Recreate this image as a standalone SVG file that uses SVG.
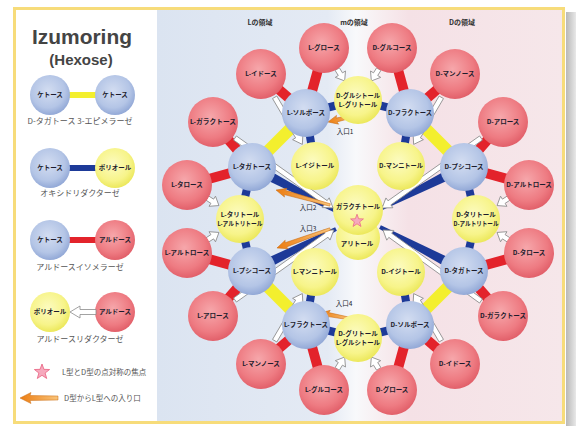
<svg xmlns="http://www.w3.org/2000/svg" xmlns:xlink="http://www.w3.org/1999/xlink" width="576" height="426" viewBox="0 0 576 426">
<defs>
<radialGradient id="gr" cx="0.45" cy="0.4" r="0.6"><stop offset="0" stop-color="#f6a7ab"/><stop offset="0.7" stop-color="#ee7b82"/><stop offset="1" stop-color="#e2606a"/></radialGradient>
<radialGradient id="gb" cx="0.45" cy="0.4" r="0.6"><stop offset="0" stop-color="#d3ddf1"/><stop offset="0.7" stop-color="#b4c5e6"/><stop offset="1" stop-color="#93a9d7"/></radialGradient>
<radialGradient id="gy" cx="0.45" cy="0.4" r="0.6"><stop offset="0" stop-color="#fcfbc0"/><stop offset="0.7" stop-color="#f7f48a"/><stop offset="1" stop-color="#ece85c"/></radialGradient>
<linearGradient id="gbg" x1="0" y1="0" x2="1" y2="0"><stop offset="0" stop-color="#dbe4f1"/><stop offset="0.42" stop-color="#e4eaf4"/><stop offset="0.49" stop-color="#f8f9fb"/><stop offset="0.56" stop-color="#f7ecef"/><stop offset="0.62" stop-color="#f5e1e6"/><stop offset="1" stop-color="#f6e7ea"/></linearGradient>
<linearGradient id="go" x1="0" y1="0" x2="1" y2="0"><stop offset="0" stop-color="#f9c47a"/><stop offset="1" stop-color="#ec7d12"/></linearGradient>
<linearGradient id="gsh" x1="0" y1="0" x2="1" y2="0"><stop offset="0" stop-color="#b8b8b8"/><stop offset="1" stop-color="#e8e8e8"/></linearGradient>
<path id="sa" d="M0,-2.5 H6 V-6 L14,0 L6,6 V2.5 H0 Z"/>
<polygon id="star" points="0,-8 1.94,-2.67 7.61,-2.47 3.14,1.02 4.70,6.47 0,3.3 -4.70,6.47 -3.14,1.02 -7.61,-2.47 -1.94,-2.67"/>
</defs>
<style>
.rn{fill:url(#gr)}
.bn{fill:url(#gb)}
.yn{fill:url(#gy)}
.t{font-family:"Noto Sans CJK JP","Noto Sans CJK SC",sans-serif;font-size:6.5px;font-weight:bold;fill:#1c1c2c;text-anchor:middle}
.cap{font-family:"Noto Sans CJK JP","Noto Sans CJK SC",sans-serif;font-size:8px;fill:#555;text-anchor:middle}
.reg{font-family:"Noto Sans CJK JP","Noto Sans CJK SC",sans-serif;font-size:7px;font-weight:bold;fill:#333;text-anchor:middle}
.rb{stroke:#e3232b;stroke-width:10;fill:none}
.yb{stroke:#f3ef2e;stroke-width:12;fill:none}
.bb{stroke:#1d3a98;stroke-width:8;fill:none}
.wg{fill:#1d3a98}
.wa{fill:#fff;stroke:#8c8c8c;stroke-width:0.8}
.oa{fill:url(#go);stroke:#c86a10;stroke-width:0.5}
.st{fill:#f6a9bd;stroke:#e8607f;stroke-width:0.8}
</style>

<!-- background -->
<rect x="0" y="0" width="576" height="426" fill="#fff"/>
<rect x="566" y="12" width="10" height="414" fill="url(#gsh)"/>
<rect x="157" y="10" width="406" height="412" fill="url(#gbg)"/>
<rect x="14.5" y="8.5" width="549" height="414" fill="none" stroke="#f7dc7a" stroke-width="3"/>

<!-- legend -->
<g id="legend">
<text x="82" y="44" font-family="Liberation Sans, Arial, sans-serif" font-size="21" font-weight="bold" fill="#444" text-anchor="middle" textLength="100" lengthAdjust="spacingAndGlyphs">Izumoring</text>
<text x="81" y="65" font-family="Liberation Sans, Arial, sans-serif" font-size="15" font-weight="bold" fill="#444" text-anchor="middle">(Hexose)</text>
<line x1="68" y1="95" x2="97" y2="95" stroke="#f3ef2e" stroke-width="6"/>
<circle cx="50" cy="95" r="20" class="bn"/><text x="50" y="97.3" class="t">ケトース</text>
<circle cx="115" cy="95" r="20" class="bn"/><text x="115" y="97.3" class="t">ケトース</text>
<text x="80" y="124" class="cap">D-タガトース 3-エピメラーゼ</text>
<line x1="68" y1="168" x2="97" y2="168" stroke="#1d3a98" stroke-width="6"/>
<circle cx="50" cy="168" r="20" class="bn"/><text x="50" y="170.3" class="t">ケトース</text>
<circle cx="115" cy="168" r="20" class="yn"/><text x="115" y="170.3" class="t">ポリオール</text>
<text x="80" y="196" class="cap">オキシドリダクターゼ</text>
<line x1="68" y1="240" x2="97" y2="240" stroke="#e3232b" stroke-width="6"/>
<circle cx="50" cy="240" r="20" class="bn"/><text x="50" y="242.3" class="t">ケトース</text>
<circle cx="115" cy="240" r="20" class="rn"/><text x="115" y="242.3" class="t">アルドース</text>
<text x="80" y="270" class="cap">アルドースイソメラーゼ</text>
<circle cx="50" cy="312" r="20" class="yn"/><text x="50" y="314.3" class="t">ポリオール</text>
<circle cx="115" cy="312" r="20" class="rn"/><text x="115" y="314.3" class="t">アルドース</text>
<path class="wa" transform="translate(96,312) rotate(180)" d="M0,-2.5 H16 V-6 L26,0 L16,6 V2.5 H0 Z"/>
<text x="80" y="342" class="cap">アルドースリダクターゼ</text>
<use href="#star" class="st" transform="translate(42,372)"/>
<text x="62" y="375" class="cap" style="font-size:7.5px;text-anchor:start">L型とD型の点対称の焦点</text>
<path class="oa" transform="translate(58,398) rotate(180)" d="M0,-2 L28,-2.5 L27,-5.5 L38,0 L27,5.5 L28,2.5 L0,2 Z"/>
<text x="64" y="401" class="cap" style="font-size:7.5px;text-anchor:start">D型からL型への入り口</text>
</g>

<!-- region labels -->
<g id="regions">
<text x="260" y="25" class="reg">Lの領域</text>
<text x="354" y="25" class="reg">mの領域</text>
<text x="462" y="25" class="reg">Dの領域</text>
</g>

<!-- connectors -->
<g id="connectors">
<!-- isomerase (red) -->
<line class="rb" x1="306" y1="113" x2="324" y2="48"/>
<line class="rb" x1="306" y1="113" x2="261" y2="74"/>
<line class="rb" x1="410" y1="113" x2="392" y2="48"/>
<line class="rb" x1="410" y1="113" x2="455" y2="74"/>
<line class="rb" x1="464" y1="167" x2="503" y2="122"/>
<line class="rb" x1="464" y1="167" x2="529" y2="185"/>
<line class="rb" x1="464" y1="271" x2="529" y2="253"/>
<line class="rb" x1="464" y1="271" x2="503" y2="316"/>
<line class="rb" x1="410" y1="325" x2="455" y2="364"/>
<line class="rb" x1="410" y1="325" x2="392" y2="390"/>
<line class="rb" x1="306" y1="325" x2="324" y2="390"/>
<line class="rb" x1="306" y1="325" x2="261" y2="364"/>
<line class="rb" x1="252" y1="271" x2="213" y2="316"/>
<line class="rb" x1="252" y1="271" x2="187" y2="253"/>
<line class="rb" x1="252" y1="167" x2="187" y2="185"/>
<line class="rb" x1="252" y1="167" x2="213" y2="122"/>
<!-- epimerase (yellow) -->
<line class="yb" x1="306" y1="113" x2="252" y2="167"/>
<line class="yb" x1="410" y1="113" x2="464" y2="167"/>
<line class="yb" x1="464" y1="271" x2="410" y2="325"/>
<line class="yb" x1="252" y1="271" x2="306" y2="325"/>
<!-- oxidoreductase (blue) -->
<line class="bb" x1="306" y1="113" x2="358" y2="100"/>
<line class="bb" x1="306" y1="113" x2="315" y2="166"/>
<line class="bb" x1="410" y1="113" x2="358" y2="100"/>
<line class="bb" x1="410" y1="113" x2="401" y2="166"/>
<line class="bb" x1="410" y1="325" x2="358" y2="338"/>
<line class="bb" x1="410" y1="325" x2="401" y2="272"/>
<line class="bb" x1="306" y1="325" x2="358" y2="338"/>
<line class="bb" x1="306" y1="325" x2="315" y2="272"/>
<line class="bb" x1="252" y1="167" x2="240" y2="219"/>
<line class="bb" x1="252" y1="271" x2="240" y2="219"/>
<line class="bb" x1="464" y1="167" x2="476" y2="219"/>
<line class="bb" x1="464" y1="271" x2="476" y2="219"/>
<polygon class="wg" points="254.6,162.1 336.9,209.2 335.1,212.8 249.4,171.9"/>
<polygon class="wg" points="249.5,266.1 335.1,227.2 336.9,230.8 254.5,275.9"/>
<polygon class="wg" points="466.5,171.9 380.9,210.8 379.1,207.2 461.5,162.1"/>
<polygon class="wg" points="461.4,275.9 379.1,228.8 380.9,225.2 466.6,266.1"/>
<!-- aldose reductase (white arrows) -->
<path class="wa" transform="translate(274.7,97.3) rotate(59.6)" d="M0,-2.5 H45.6 V-6 L54.6,0 L45.6,6 V2.5 H0 Z"/>
<path class="wa" transform="translate(441.3,97.3) rotate(120.4)" d="M0,-2.5 H45.6 V-6 L54.6,0 L45.6,6 V2.5 H0 Z"/>
<path class="wa" transform="translate(274.7,340.7) rotate(-59.6)" d="M0,-2.5 H45.6 V-6 L54.6,0 L45.6,6 V2.5 H0 Z"/>
<path class="wa" transform="translate(441.3,340.7) rotate(-120.4)" d="M0,-2.5 H45.6 V-6 L54.6,0 L45.6,6 V2.5 H0 Z"/>
<path class="wa" transform="translate(235,138) rotate(35.5)" d="M0,-2.5 H111.4 V-6 L120.4,0 L111.4,6 V2.5 H0 Z"/>
<path class="wa" transform="translate(235,300) rotate(-35.3)" d="M0,-2.5 H112.2 V-6 L121.2,0 L112.2,6 V2.5 H0 Z"/>
<path class="wa" transform="translate(481,138) rotate(144.7)" d="M0,-2.5 H112.2 V-6 L121.2,0 L112.2,6 V2.5 H0 Z"/>
<path class="wa" transform="translate(481,301) rotate(-144.1)" d="M0,-2.5 H112 V-6 L121,0 L112,6 V2.5 H0 Z"/>
<use href="#sa" class="wa" transform="translate(337.2,69.1) rotate(57.8)"/>
<use href="#sa" class="wa" transform="translate(378.8,69.1) rotate(122.2)"/>
<use href="#sa" class="wa" transform="translate(337.2,368.9) rotate(-57.8)"/>
<use href="#sa" class="wa" transform="translate(378.8,368.9) rotate(-122.2)"/>
<use href="#sa" class="wa" transform="translate(207.2,198) rotate(32.7)"/>
<use href="#sa" class="wa" transform="translate(207.2,240) rotate(-32.7)"/>
<use href="#sa" class="wa" transform="translate(508.8,198) rotate(147.3)"/>
<use href="#sa" class="wa" transform="translate(508.8,240) rotate(-147.3)"/>
<!-- entrances (orange) -->
<path class="oa" transform="translate(358,115) rotate(166.9)" d="M0,-1.2 L22,-2 L21,-4.5 L30.8,0 L21,4.5 L22,2 L0,1.2 Z"/>
<path class="oa" transform="translate(330,205) rotate(195.5)" d="M0,-1.2 L47,-2.2 L46,-4.5 L56,0 L46,4.5 L47,2.2 L0,1.2 Z"/>
<path class="oa" transform="translate(330,229) rotate(160.3)" d="M0,-1.2 L47,-2.2 L46,-4.5 L56.3,0 L46,4.5 L47,2.2 L0,1.2 Z"/>
<path class="oa" transform="translate(352,319) rotate(190.6)" d="M0,-1.2 L24,-2 L23,-4.5 L32.6,0 L23,4.5 L24,2 L0,1.2 Z"/>
<text x="345" y="134" class="t" style="font-weight:normal">入口1</text>
<text x="308" y="210" class="t" style="font-weight:normal">入口2</text>
<text x="308" y="231" class="t" style="font-weight:normal">入口3</text>
<text x="344" y="306" class="t" style="font-weight:normal">入口4</text>
</g>

<!-- aldoses -->
<g id="d-altrose"><circle cx="529" cy="185" r="25" class="rn"/><text x="529" y="187.3" class="t">D-アルトロース</text></g>
<g id="d-talose"><circle cx="529" cy="253" r="25" class="rn"/><text x="529" y="255.3" class="t">D-タロース</text></g>
<g id="d-galactose"><circle cx="503" cy="316" r="25" class="rn"/><text x="503" y="318.3" class="t" textLength="46" lengthAdjust="spacingAndGlyphs">D-ガラクトース</text></g>
<g id="d-idose"><circle cx="455" cy="364" r="25" class="rn"/><text x="455" y="366.3" class="t">D-イドース</text></g>
<g id="d-gulose"><circle cx="392" cy="390" r="25" class="rn"/><text x="392" y="392.3" class="t">D-グロース</text></g>
<g id="l-glucose"><circle cx="324" cy="390" r="25" class="rn"/><text x="324" y="392.3" class="t">L-グルコース</text></g>
<g id="l-mannose"><circle cx="261" cy="364" r="25" class="rn"/><text x="261" y="366.3" class="t">L-マンノース</text></g>
<g id="l-allose"><circle cx="213" cy="316" r="25" class="rn"/><text x="213" y="318.3" class="t">L-アロース</text></g>
<g id="l-altrose"><circle cx="187" cy="253" r="25" class="rn"/><text x="187" y="255.3" class="t">L-アルトロース</text></g>
<g id="l-talose"><circle cx="187" cy="185" r="25" class="rn"/><text x="187" y="187.3" class="t">L-タロース</text></g>
<g id="l-galactose"><circle cx="213" cy="122" r="25" class="rn"/><text x="213" y="124.3" class="t" textLength="46" lengthAdjust="spacingAndGlyphs">L-ガラクトース</text></g>
<g id="l-idose"><circle cx="261" cy="74" r="25" class="rn"/><text x="261" y="76.3" class="t">L-イドース</text></g>
<g id="l-gulose"><circle cx="324" cy="48" r="25" class="rn"/><text x="324" y="50.3" class="t">L-グロース</text></g>
<g id="d-glucose"><circle cx="392" cy="48" r="25" class="rn"/><text x="392" y="50.3" class="t">D-グルコース</text></g>
<g id="d-mannose"><circle cx="455" cy="74" r="25" class="rn"/><text x="455" y="76.3" class="t">D-マンノース</text></g>
<g id="d-allose"><circle cx="503" cy="122" r="25" class="rn"/><text x="503" y="124.3" class="t">D-アロース</text></g>

<!-- ketoses -->
<g id="l-tagatose"><circle cx="252" cy="167" r="24" class="bn"/><text x="252" y="169.3" class="t">L-タガトース</text></g>
<g id="l-sorbose"><circle cx="306" cy="113" r="24" class="bn"/><text x="306" y="115.3" class="t">L-ソルボース</text></g>
<g id="d-fructose"><circle cx="410" cy="113" r="24" class="bn"/><text x="410" y="115.3" class="t" textLength="44" lengthAdjust="spacingAndGlyphs">D-フラクトース</text></g>
<g id="d-psicose"><circle cx="464" cy="167" r="24" class="bn"/><text x="464" y="169.3" class="t">D-プシコース</text></g>
<g id="d-tagatose"><circle cx="464" cy="271" r="24" class="bn"/><text x="464" y="273.3" class="t">D-タガトース</text></g>
<g id="d-sorbose"><circle cx="410" cy="325" r="24" class="bn"/><text x="410" y="327.3" class="t">D-ソルボース</text></g>
<g id="l-fructose"><circle cx="306" cy="325" r="24" class="bn"/><text x="306" y="327.3" class="t" textLength="44" lengthAdjust="spacingAndGlyphs">L-フラクトース</text></g>
<g id="l-psicose"><circle cx="252" cy="271" r="24" class="bn"/><text x="252" y="273.3" class="t">L-プシコース</text></g>

<!-- polyols -->
<g id="d-glucitol"><circle cx="358" cy="100" r="24" class="yn"/><text x="358" y="98" class="t" textLength="44" lengthAdjust="spacingAndGlyphs">D-グルシトール</text><text x="358" y="107" class="t">L-グリトール</text></g>
<g id="l-iditol"><circle cx="315" cy="166" r="24" class="yn"/><text x="315" y="168.3" class="t">L-イジトール</text></g>
<g id="d-mannitol"><circle cx="401" cy="166" r="24" class="yn"/><text x="401" y="168.3" class="t" textLength="44" lengthAdjust="spacingAndGlyphs">D-マンニトール</text></g>
<g id="l-talitol"><circle cx="240" cy="219" r="24" class="yn"/><text x="240" y="217" class="t">L-タリトール</text><text x="240" y="226" class="t" textLength="45" lengthAdjust="spacingAndGlyphs">L-アルトリトール</text></g>
<g id="d-talitol"><circle cx="476" cy="219" r="24" class="yn"/><text x="476" y="217" class="t">D-タリトール</text><text x="476" y="226" class="t" textLength="45" lengthAdjust="spacingAndGlyphs">D-アルトリトール</text></g>
<g id="l-mannitol"><circle cx="315" cy="272" r="24" class="yn"/><text x="315" y="274.3" class="t" textLength="44" lengthAdjust="spacingAndGlyphs">L-マンニトール</text></g>
<g id="d-iditol"><circle cx="401" cy="272" r="24" class="yn"/><text x="401" y="274.3" class="t">D-イジトール</text></g>
<g id="l-glucitol"><circle cx="358" cy="338" r="24" class="yn"/><text x="358" y="336" class="t">D-グリトール</text><text x="358" y="345" class="t" textLength="44" lengthAdjust="spacingAndGlyphs">L-グルシトール</text></g>
<g id="galactitol-allitol"><circle cx="358" cy="238" r="22" class="yn"/><circle cx="358" cy="210" r="25" class="yn"/><text x="358" y="209" class="t" textLength="44" lengthAdjust="spacingAndGlyphs">ガラクチトール</text><use href="#star" class="st" transform="translate(357,221) scale(0.85)"/><text x="357" y="246" class="t">アリトール</text></g>
</svg>
